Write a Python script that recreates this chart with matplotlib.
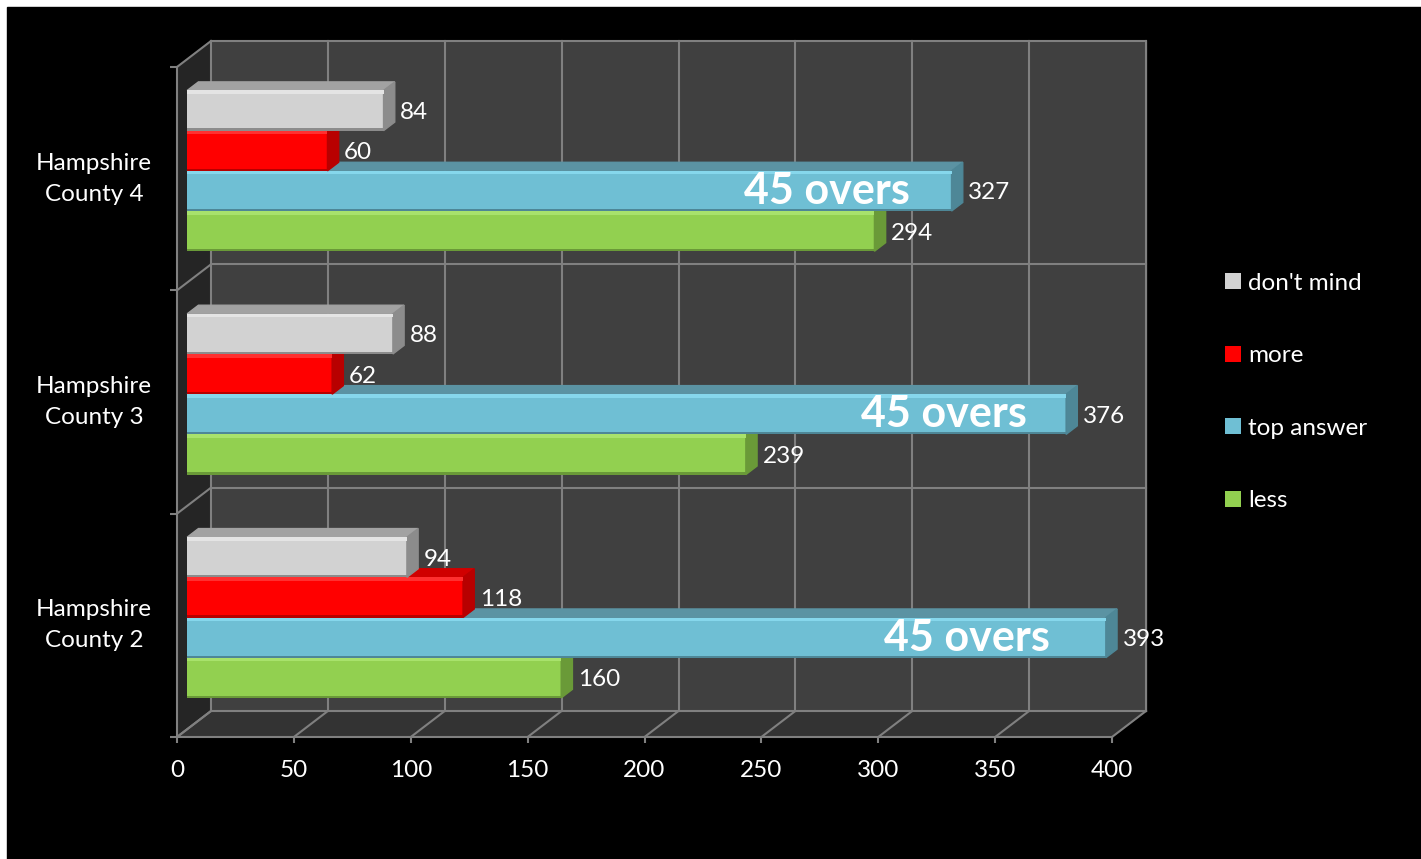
import matplotlib.pyplot as plt
from matplotlib.patches import Polygon, Rectangle

categories = ['Hampshire\nCounty 2', 'Hampshire\nCounty 3', 'Hampshire\nCounty 4']
dont_mind = [94, 88, 84]
more = [118, 62, 60]
top_answer = [393, 376, 327]
less = [160, 239, 294]
note_text = '45 overs'
note_x = [338, 328, 278]   # where the note sits on each top answer bar
x_ticks = [0, 50, 100, 150, 200, 250, 300, 350, 400]

plt.rcParams['font.family'] = ['Lato', 'DejaVu Sans']
fs = 17.5
grid_col = '#808080'

W, H = 1421, 859
fig = plt.figure(figsize=(W / 100, H / 100), dpi=100, facecolor='white')
fig.patches.append(Rectangle((7 / W, 0), 1, 1 - 7 / H, transform=fig.transFigure,
                             color='black', zorder=-10))

ax = fig.add_axes([177 / W, 122 / H, 935 / W, 670 / H])
ax.set_xlim(0, 400)
ax.set_ylim(0, 3)
ax.set_facecolor('none')

# depth of the fake 3d box, in data units
DX = 34 / 935 * 400
DY = 26 / 670 * 3

# walls
ax.add_patch(Rectangle((DX, DY), 400, 3, color='#404040', zorder=0.5, clip_on=False))
ax.add_patch(Polygon([(0, 0), (DX, DY), (DX, 3 + DY), (0, 3)], color='#252525',
                     zorder=0.5, clip_on=False))
ax.add_patch(Polygon([(0, 0), (400, 0), (400 + DX, DY), (DX, DY)], color='#333333',
                     zorder=0.5, clip_on=False))
for v in x_ticks:
    ax.plot([v + DX, v + DX], [DY, 3 + DY], color=grid_col, lw=1.5, zorder=1, clip_on=False)
    ax.plot([v, v + DX], [0, DY], color=grid_col, lw=1.5, zorder=1, clip_on=False)
for k in range(4):
    ax.plot([DX, 400 + DX], [k + DY, k + DY], color=grid_col, lw=1.5, zorder=1, clip_on=False)
    ax.plot([0, DX], [k, k + DY], color=grid_col, lw=1.5, zorder=1, clip_on=False)

# bars: drawn bottom to top so each upper bar hides the top face of the one below
bh = 0.18
d1, d2 = 0.3, 0.63
fx, fy = d1 * DX, d1 * DY
ddx, ddy = (d2 - d1) * DX, (d2 - d1) * DY

series = [
    ('less', less, -1.5, '#92d050', '#a8e26c', '#6f9f3d', '#6a9a38'),
    ('top answer', top_answer, -0.5, '#6fbfd4', '#86d7ec', '#5b93a3', '#4e8797'),
    ('more', more, 0.5, '#ff0000', '#ff3030', '#d00000', '#b80000'),
    ("don't mind", dont_mind, 1.5, '#d2d2d2', '#e4e4e4', '#a2a2a2', '#8c8c8c'),
]
handles = {}
ys = {}
for j, (name, vals, off, front, light, top, side) in enumerate(series):
    z = 3 + j * 0.2
    y = [k + 0.5 + off * bh + fy for k in range(3)]
    ys[name] = y
    bars = ax.barh(y, vals, height=bh, left=fx, color=front, zorder=z, label=name)
    ax.barh([yy + bh / 2 - 0.008 for yy in y], vals, height=0.016, left=fx,
            color=light, zorder=z + 0.01)
    ax.barh([yy - bh / 2 + 0.005 for yy in y], vals, height=0.01, left=fx,
            color=side, zorder=z + 0.01)
    for yy, v in zip(y, vals):
        t = yy + bh / 2
        b = yy - bh / 2
        ax.add_patch(Polygon([(fx, t), (fx + v, t), (fx + v + ddx, t + ddy), (fx + ddx, t + ddy)],
                             color=top, zorder=z, clip_on=False))
        ax.add_patch(Polygon([(fx + v, b), (fx + v + ddx, b + ddy), (fx + v + ddx, t + ddy), (fx + v, t)],
                             color=side, zorder=z, clip_on=False))
    labels = ax.bar_label(bars, labels=[str(v) for v in vals], padding=12, color='white',
                          fontsize=fs, zorder=10)
    for lab in labels:
        lab.set_va('center_baseline')
    handles[name] = bars

for k in range(3):
    ax.text(note_x[k], ys['top answer'][k], note_text, ha='center', va='center',
            fontsize=31, fontweight='bold', color='white', zorder=10)

# axes
for s in ['top', 'right']:
    ax.spines[s].set_visible(False)
for s in ['left', 'bottom']:
    ax.spines[s].set_color(grid_col)
    ax.spines[s].set_linewidth(1.5)
    ax.spines[s].set_zorder(2)

ax.set_xticks(x_ticks)
ax.tick_params(axis='x', colors=grid_col, labelcolor='white', length=4.5, width=1.5,
               labelsize=fs, pad=12)
ax.set_yticks([0.5, 1.5, 2.5], categories)
ax.set_yticks([0, 1, 2, 3], minor=True)
ax.tick_params(axis='y', which='major', length=0, labelcolor='white', labelsize=fs, pad=18)
ax.tick_params(axis='y', which='minor', length=5, width=1.5, color=grid_col)
for lbl in ax.get_yticklabels():
    lbl.set_multialignment('center')
    lbl.set_linespacing(1.6)
    lbl.set_va('center')

order = ["don't mind", 'more', 'top answer', 'less']
ax.legend([handles[n] for n in order], order, loc='center left',
          bbox_to_anchor=(1225 / W, (H - 392) / H), bbox_transform=fig.transFigure,
          frameon=False, fontsize=fs, labelcolor='white', handlelength=0.65,
          handleheight=0.65, handletextpad=0.3, labelspacing=2.12, borderpad=0,
          borderaxespad=0)

fig.savefig('out.png', dpi=100, facecolor=fig.get_facecolor())
